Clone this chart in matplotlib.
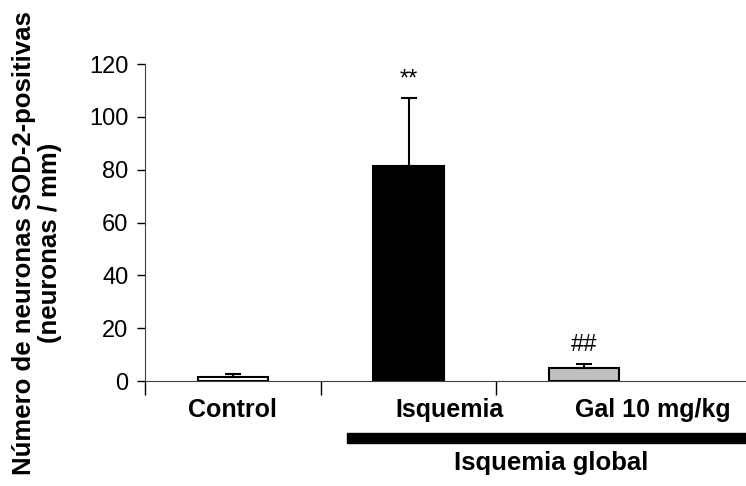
import matplotlib.pyplot as plt
from matplotlib.patches import Rectangle

plt.rcParams['font.family'] = ['Liberation Sans', 'DejaVu Sans']

# Data
groups = ['Control', 'Isquemia', 'Gal 10 mg/kg']
means = [1.4, 81.5, 4.9]
errors = [1.2, 25.5, 1.4]
colors = ['white', 'black', '#c0c0c0']
marks = ['', '**', '##']
yticks = [0, 20, 40, 60, 80, 100, 120]

fig = plt.figure(figsize=(7.46, 4.86), dpi=100)
ax = fig.add_axes([145 / 746, 1 - 381 / 486, 601 / 746, 317 / 486])

x = list(range(len(groups)))
ax.bar(x, means, width=0.4, color=colors, edgecolor='black', linewidth=1.5, zorder=2)
ax.errorbar(x, means, yerr=[[0] * len(means), errors], fmt='none',
            ecolor='black', elinewidth=1.5, capsize=6, capthick=1.5, zorder=3)

for xi, m, e, s in zip(x, means, errors, marks):
    if s:
        ax.text(xi, m + e + 3, s, ha='center', va='bottom', fontsize=17)

ax.set_xlim(-0.5, 2.92)
ax.set_ylim(0, 120)
ax.set_yticks(yticks)
ax.tick_params(axis='y', direction='out', length=6, width=1, labelsize=17, pad=6)

# tick marks at category boundaries, labels placed as in the original
ax.set_xticks([-0.5, 0.5, 1.5])
ax.set_xticklabels([])
ax.tick_params(axis='x', which='major', direction='out', length=10, width=1)
ax.set_xticks([0, 1.23, 2.39], minor=True)
ax.set_xticklabels(groups, minor=True, fontsize=18, fontweight='bold')
ax.tick_params(axis='x', which='minor', length=0, pad=12)

ax.spines['top'].set_visible(False)
ax.spines['right'].set_visible(False)
ax.spines['left'].set_color('#404040')
ax.spines['bottom'].set_color('#404040')

# group bar under the ischemia groups
fig.add_artist(Rectangle((347 / 746, 1 - 443 / 486), 399 / 746, 10.5 / 486,
                         transform=fig.transFigure, color='black'))
fig.text(551 / 746, 1 - 463 / 486, 'Isquemia global', ha='center', va='center',
         fontsize=18.5, fontweight='bold')

fig.text(37 / 746, 1 - 243 / 486,
         'Número de neuronas SOD-2-positivas\n(neuronas / mm)',
         rotation=90, ha='center', va='center', multialignment='center',
         fontsize=18.5, fontweight='bold', linespacing=1.1)

plt.savefig('out.png', dpi=100)
